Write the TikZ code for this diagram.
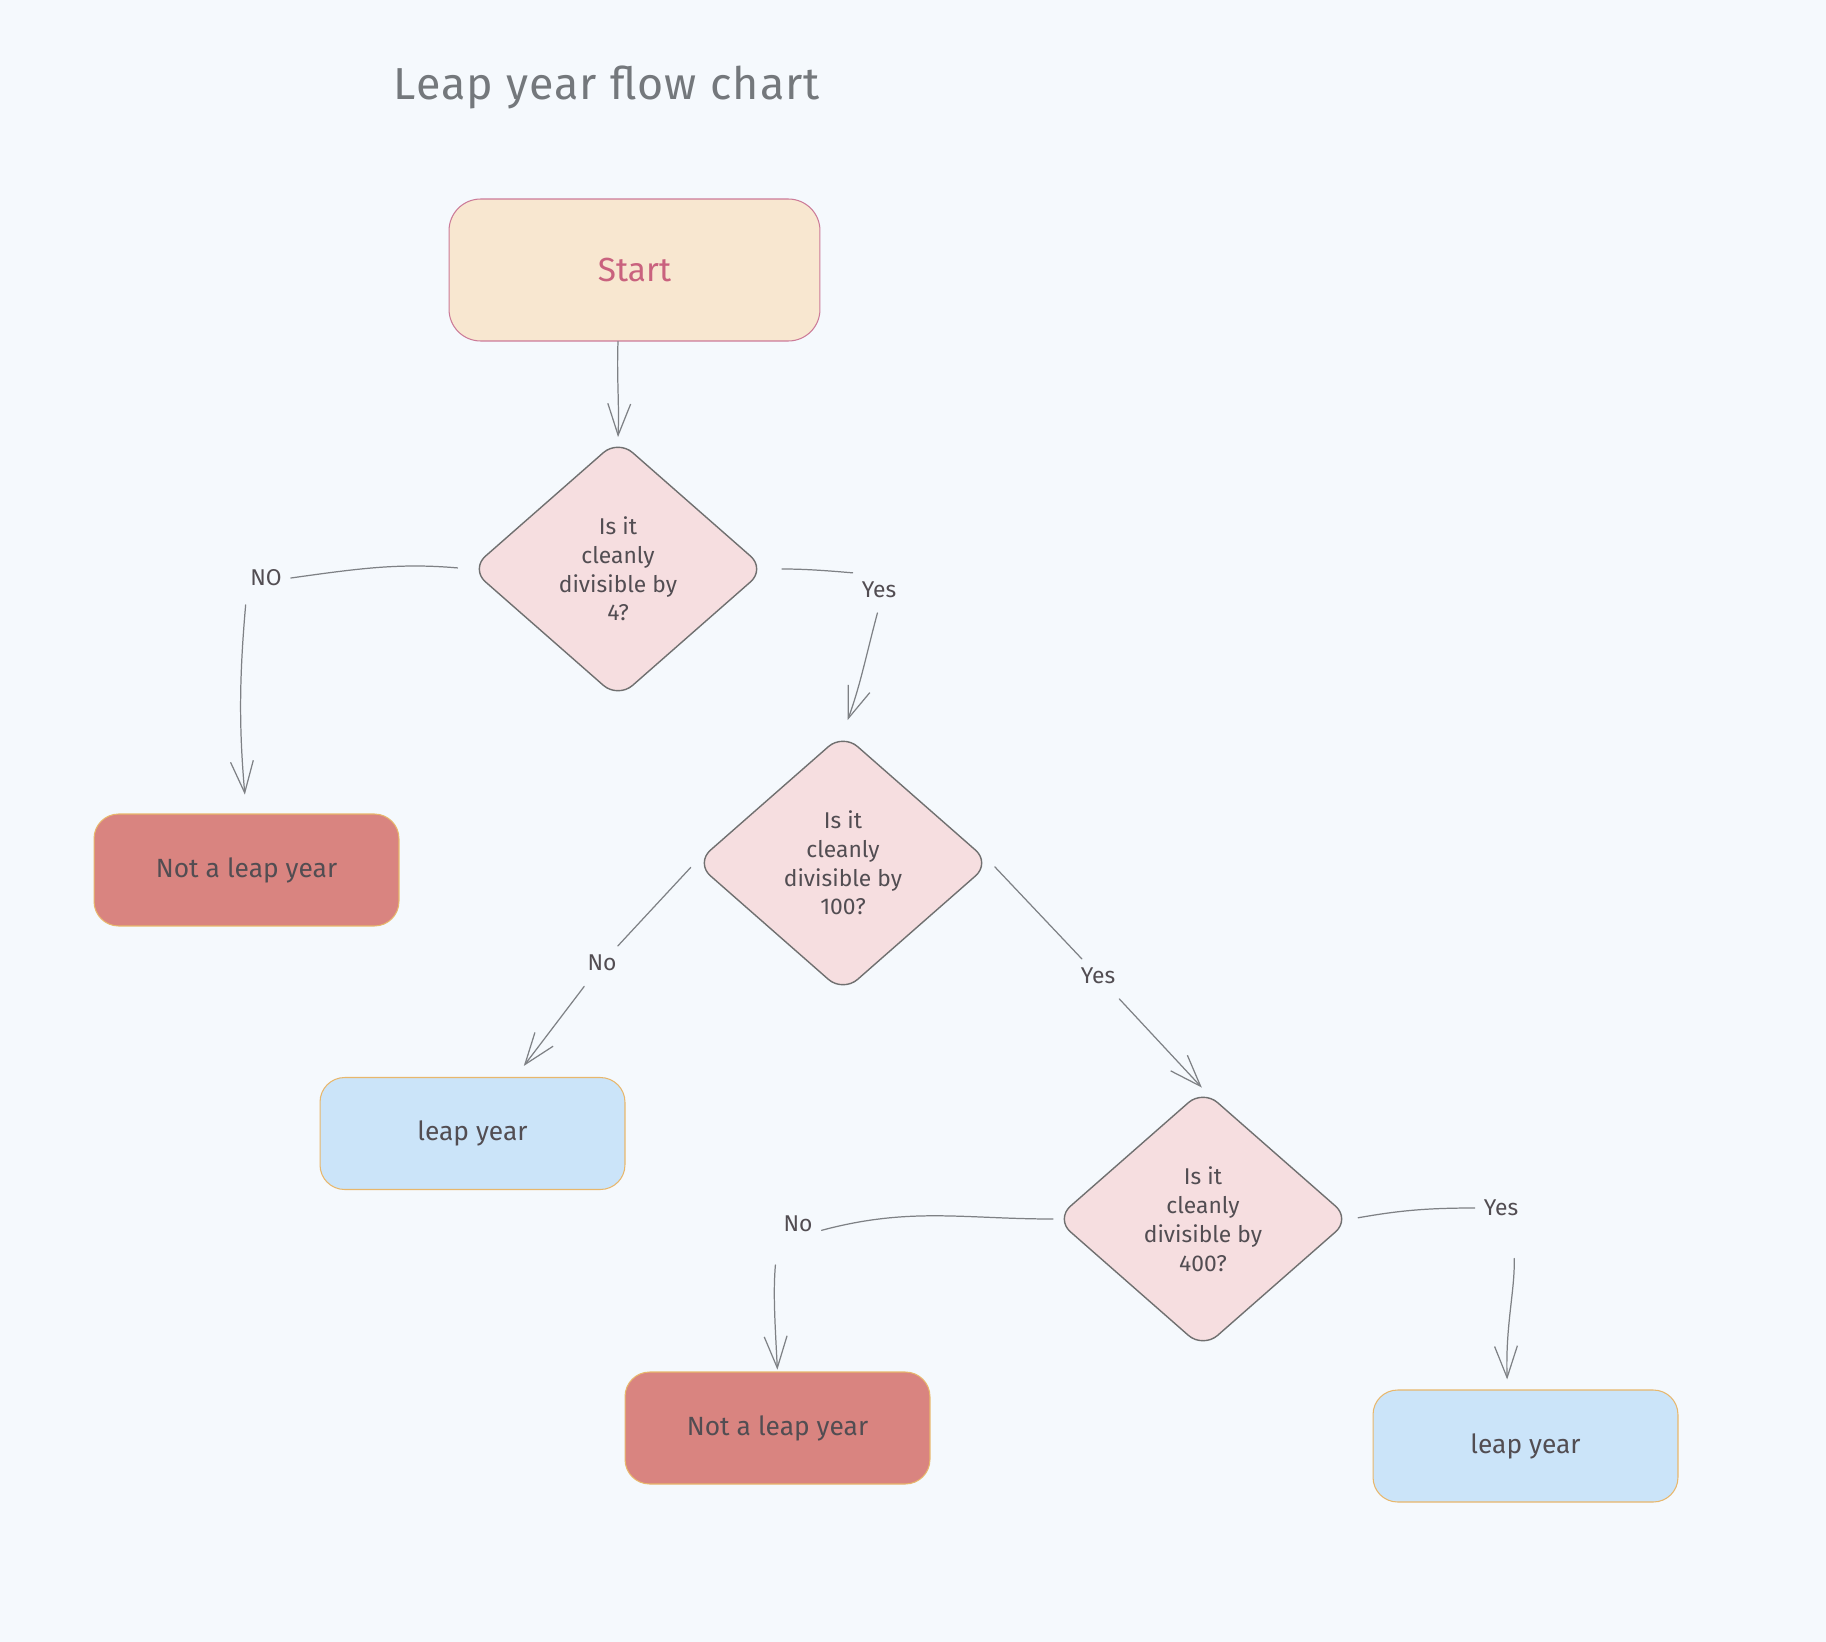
\documentclass[tikz,border=0pt]{standalone}
\usepackage{fontspec}
\setmainfont{Fira Sans}
\newfontfamily\ttlfont[LetterSpace=2.5]{Fira Sans}
\usetikzlibrary{positioning,arrows.meta,shapes.geometric}
\definecolor{bgc}{HTML}{F5F9FD}
\definecolor{startfill}{HTML}{F8E7D0}
\definecolor{startdraw}{HTML}{CC7B98}
\definecolor{starttxt}{HTML}{C9627E}
\definecolor{dcsfill}{HTML}{F6DEE0}
\definecolor{dcsdraw}{HTML}{707070}
\definecolor{nofill}{HTML}{D98480}
\definecolor{yesfill}{HTML}{CBE4F9}
\definecolor{bxdraw}{HTML}{E8B76C}
\definecolor{txtc}{HTML}{524D52}
\definecolor{linec}{HTML}{7E8185}
\definecolor{ttlc}{HTML}{74787C}
\tikzset{
  startbx/.style={draw=startdraw,fill=startfill,line width=0.6pt,rounded corners=18pt,
    minimum width=7.42cm,minimum height=2.84cm,text=starttxt,font=\fontsize{19}{22}\selectfont},
  dcs/.style={diamond,draw=dcsdraw,fill=dcsfill,line width=0.8pt,rounded corners=11pt,
    minimum width=5.9cm,minimum height=5.18cm,inner sep=0pt,align=center,
    text=txtc,font=\fontsize{13}{16.4}\selectfont},   % decision
  nobx/.style={draw=bxdraw,fill=nofill,line width=0.6pt,rounded corners=14pt,
    minimum width=6.1cm,minimum height=2.24cm,text=txtc,font=\fontsize{15}{18}\selectfont},
  yesbx/.style={nobx,fill=yesfill},
  conn/.style={draw=linec,line width=0.7pt,line cap=round},
  arr/.style={conn,-{Straight Barb[length=18pt,width=13pt]}},
  elbl/.style={text=txtc,font=\fontsize{13}{15}\selectfont,inner sep=5pt}, % edge label
}
\begin{document}
\begin{tikzpicture}[x=0.02cm,y=0.02cm]
  \fill[bgc] (0,0) rectangle (1826,-1642);
  \node[text=ttlc,font=\ttlfont\fontsize{25.5}{30}\selectfont] (ttl) at (607,-87) {Leap year flow chart};
  % boxes and decisions
  \node[startbx] (start) at (634.5,-270) {Start};
  \node[dcs] (d1) at (618,-569) {Is it\\cleanly\\divisible by\\4?};
  \node[dcs] (d2) at (843,-863) {Is it\\cleanly\\divisible by\\100?};
  \node[dcs] (d3) at (1203,-1219) {Is it\\cleanly\\divisible by\\400?};
  \node[nobx] (nl1) at (246.5,-870) {Not a leap year};
  \node[yesbx] (l1) at (472.5,-1133.5) {leap year};
  \node[nobx] (nl2) at (777.5,-1428) {Not a leap year};
  \node[yesbx] (l2) at (1525.5,-1446) {leap year};
  % edge labels
  \node[elbl] (lno1) at (266,-578) {NO};
  \node[elbl] (lyes1) at (879,-590) {Yes};
  \node[elbl] (lno2) at (602,-963) {No};
  \node[elbl] (lyes2) at (1098,-976) {Yes};
  \node[elbl] (lno3) at (798,-1224) {No};
  \node[elbl] (lyes3) at (1501,-1208) {Yes};
  % connectors
  \draw[arr,shorten >=1pt] (start.south -| d1.north) to[out=-92,in=88] (d1.north);
  \draw[conn,shorten <=7pt] (d1.west) to[out=175,in=8] (lno1.east);
  \draw[arr,shorten <=5.5pt,shorten >=10.8pt] (lno1.south -| nl1.north) to[out=-95,in=95] (nl1.north);
  \draw[conn,shorten <=9pt] (d1.east) to[out=0,in=175] (lyes1.north west);
  \draw[arr,shorten <=3.4pt,shorten >=7.7pt] (lyes1.south) to[out=-105,in=70] (d2.north);
  \draw[conn,shorten <=3.4pt] (d2.west) -- (lno2);
  \draw[arr,shorten <=4.5pt,shorten >=7.9pt] (lno2) -- (l1);
  \draw[conn,shorten <=3pt] (d2.east) -- (lyes2);
  \draw[arr,shorten <=4.5pt,shorten >=1pt] (lyes2) -- (d3.north);
  \draw[conn,shorten <=1pt] (d3.west) to[out=180,in=15] (lno3.-15);
  \draw[arr,shorten <=13.6pt,shorten >=1pt] (lno3.south -| nl2.north) to[out=-95,in=93] (nl2.north);
  \draw[conn,shorten <=4pt] (d3.east) to[out=10,in=180] (lyes3.west);
  \draw[arr,shorten <=19pt,shorten >=5.7pt] ([xshift=0.24cm]lyes3.south) to[out=-88,in=92] ([xshift=-0.36cm]l2.north);
\end{tikzpicture}
\end{document}
